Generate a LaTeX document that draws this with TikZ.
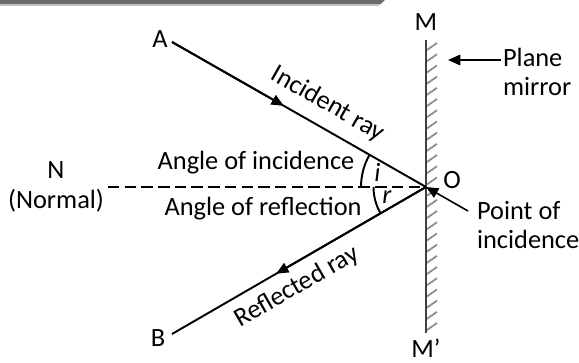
\documentclass[tikz,border=0pt]{standalone}
\usepackage{fontspec}
\setmainfont{Carlito}
\usetikzlibrary{arrows.meta,calc}
\begin{document}
\begin{tikzpicture}[
    every node/.style={inner sep=1pt, font=\fontsize{15}{17}\selectfont},
    ray/.style={line width=1.1pt},
    tip/.style={-{Triangle[length=7pt,width=6pt]}, line width=1.1pt},
    normal/.style={line width=1.1pt, dash pattern=on 6.5pt off 3pt},
    mirror/.style={line width=1.3pt, draw=black!75},
    hatch/.style={line width=1pt, draw=black!45},
    pointer/.style={-{Triangle[length=7pt,width=6pt]}, line width=0.9pt}
]
    \useasboundingbox (0,0) rectangle (11.58,7.24);
    % top bar
    \fill[black!58] (0,7.24) -- (7.70,7.24) -- (7.60,7.15) -- (0,7.15) -- cycle;
    \fill[black!25] (0,7.15) -- (7.60,7.15) -- (7.57,7.12) -- (0,7.12) -- cycle;

    \coordinate (O) at (8.52,3.50);
    \coordinate (A) at (3.44,6.40);
    \coordinate (B) at (3.44,0.56);
    \coordinate (Nend) at (2.16,3.50);
    \coordinate (Mtop) at (8.52,6.44);
    \coordinate (Mbot) at (8.52,0.58);

    % mirror
    \foreach \k in {0,...,25}
        \draw[hatch] (8.54,6.24-\k*0.224) -- ++(0.2,0.14);
    \draw[mirror] (Mtop) -- (Mbot);
    \node (M) at (8.52,6.80) {M};
    \node (Mp) at (8.52,0.27) {M’};

    % rays
    \draw[ray] (A) -- (O);
    \draw[tip] (A) -- ($(A)!0.44!(O)$);
    \draw[ray] (O) -- (B);
    \draw[tip] (O) -- ($(O)!0.59!(B)$);
    \draw[normal] (Nend) -- (O);

    \node (Alab) at (3.20,6.46) {A};
    \node (Blab) at (3.16,0.48) {B};
    \node (Olab) at (9.04,3.64) {O};
    \node[align=center] (N) at (1.12,3.50) {N\\(Normal)};

    \node[rotate=-29.7] (inc) at (6.56,5.16) {Incident ray};
    \node[rotate=30] (refl) at (5.94,1.50) {Reflected ray};

    \node (aoi) at (5.12,3.98) {Angle of incidence};
    \node (aor) at (5.26,3.06) {Angle of reflection};

    % angles
    \draw[ray] ($(O)+(180:1.3)$) arc[start angle=180, end angle=150.3, radius=1.3];
    \draw[ray] ($(O)+(180:1.05)$) arc[start angle=180, end angle=210, radius=1.05];
    \node (i) at (7.55,3.80) {\itshape i};
    \node (r) at (7.74,3.30) {\itshape r};

    % plane mirror label
    \node[align=left, anchor=west] (plane) at (10.02,5.80) {Plane\\mirror};
    \coordinate (ptip) at (8.96,6.04);
    \draw[pointer] (ptip -| plane.west) -- (ptip);

    % point of incidence label
    \node[align=left, anchor=west] (poi) at (9.50,2.74) {Point of\\incidence};
    \coordinate (pstart) at (9.36,3.02);
    \draw[pointer] (pstart) -- (O);
\end{tikzpicture}
\end{document}
